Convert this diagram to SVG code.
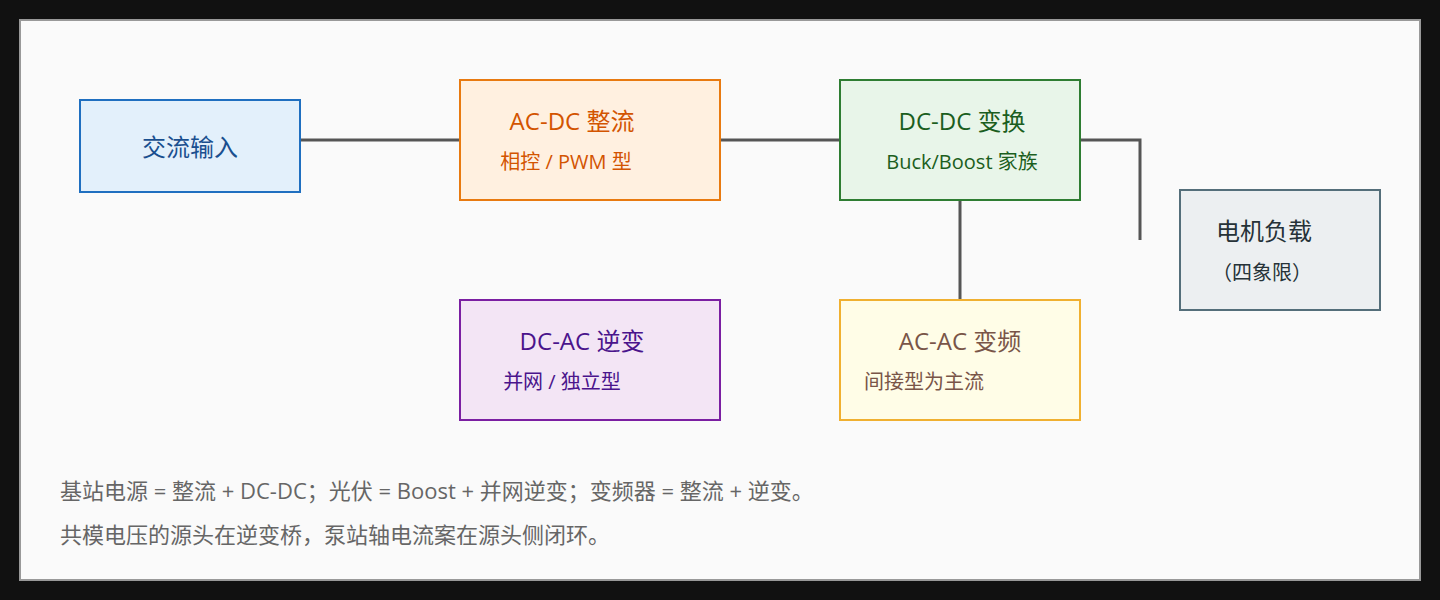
<svg xmlns="http://www.w3.org/2000/svg" width="1440" height="600" viewBox="0 0 1440 600">
<style>
text{font-family:"Open Sans","Noto Sans CJK SC",sans-serif}
.t{font-size:24px}
.s{font-size:20px}
.n{font-size:22px;fill:#666}
.c{stroke:#555;stroke-width:3;fill:none}
</style>
<rect width="1440" height="600" fill="#111"/>
<rect x="20" y="20" width="1400" height="560" fill="#fafafa" stroke="#999" stroke-width="2"/>
<g id="connectors">
<path class="c" d="M300 140H460"/>
<path class="c" d="M720 140H840"/>
<path class="c" d="M1080 140H1140V240"/>
<path class="c" d="M960 200V300"/>
</g>
<g id="ac-in"><rect x="80" y="100" width="220" height="92" fill="#e3f0fb" stroke="#1f6fc0" stroke-width="2"/><text class="t" x="190" y="156" text-anchor="middle" fill="#1a4f8f">交流输入</text></g>
<g id="acdc"><rect x="460" y="80" width="260" height="120" fill="#fff0e0" stroke="#e87a10" stroke-width="2"/><text class="t" x="572" y="130" text-anchor="middle" fill="#d35400">AC-DC 整流</text><text class="s" x="566" y="169" text-anchor="middle" fill="#d35400">相控 / PWM 型</text></g>
<g id="dcdc"><rect x="840" y="80" width="240" height="120" fill="#e8f5e9" stroke="#2e7d32" stroke-width="2"/><text class="t" x="962" y="130" text-anchor="middle" fill="#1b5e20">DC-DC 变换</text><text class="s" x="962" y="169" text-anchor="middle" fill="#1b5e20">Buck/Boost 家族</text></g>
<g id="motor"><rect x="1180" y="190" width="200" height="120" fill="#eceff1" stroke="#546e7a" stroke-width="2"/><text class="t" x="1216" y="240" fill="#263238">电机负载</text><text class="s" x="1212" y="280" fill="#263238">（四象限）</text></g>
<g id="dcac"><rect x="460" y="300" width="260" height="120" fill="#f3e5f5" stroke="#7b1fa2" stroke-width="2"/><text class="t" x="582" y="350" text-anchor="middle" fill="#4a148c">DC-AC 逆变</text><text class="s" x="562" y="389" text-anchor="middle" fill="#4a148c">并网 / 独立型</text></g>
<g id="acac"><rect x="840" y="300" width="240" height="120" fill="#fffde7" stroke="#f0b030" stroke-width="2"/><text class="t" x="960" y="350" text-anchor="middle" fill="#795548">AC-AC 变频</text><text class="s" x="864" y="389" fill="#795548">间接型为主流</text></g>
<text class="n" x="60" y="499">基站电源 = 整流 + DC-DC；光伏 = Boost + 并网逆变；变频器 = 整流 + 逆变。</text>
<text class="n" x="60" y="543">共模电压的源头在逆变桥，泵站轴电流案在源头侧闭环。</text>
</svg>
